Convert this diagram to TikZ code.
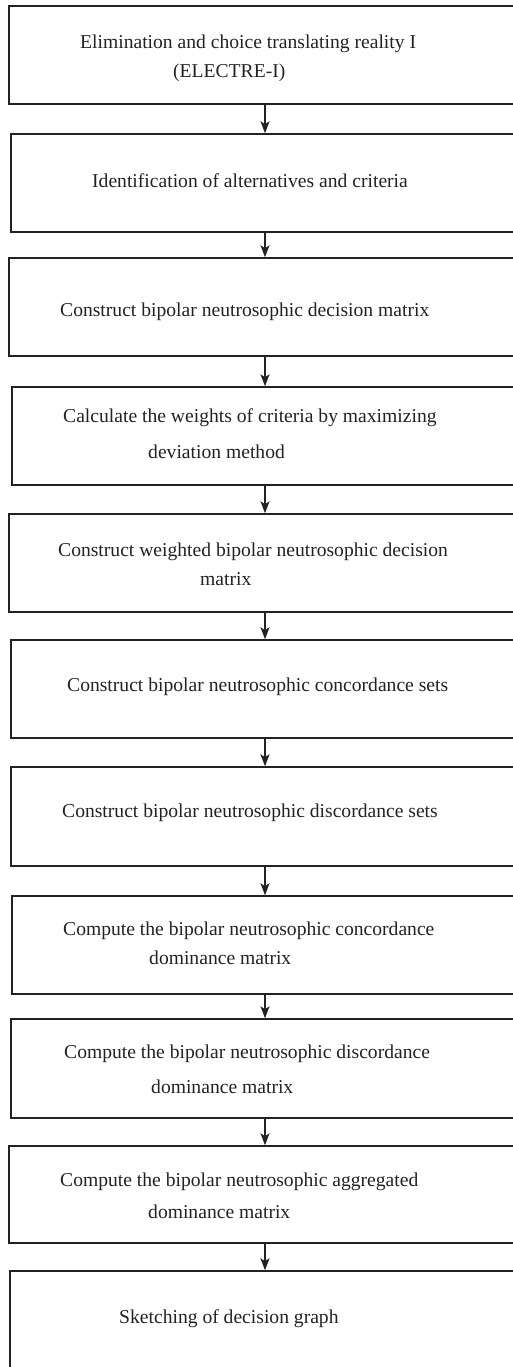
\documentclass[tikz,border=0pt]{standalone}
\usepackage{fontspec}
\setmainfont{Liberation Serif}
\usetikzlibrary{arrows.meta}
\definecolor{ink}{HTML}{222222}
\tikzset{
  box/.style={draw=ink, line width=1.5pt, rectangle, inner sep=0pt},
  lbl/.style={anchor=base west, inner sep=0pt, text=ink, font=\fontsize{19.6}{23}\selectfont},
  arr/.style={draw=ink, line width=1.5pt, -{Stealth[length=12pt,width=9pt,inset=3pt]}}
}
\newcommand{\mkbox}[4]{% name, left, top, bottom
  \node[box, minimum width={530-#2}, minimum height={#4-#3}] (#1) at ({(530+#2)/2},{(#3+#4)/2}) {};}
\begin{document}
\begin{tikzpicture}[x=1pt,y=-1pt]
\useasboundingbox (0,0) rectangle (512,1367);
\mkbox{b1}{9}{6}{104}
\mkbox{b2}{11}{134}{232}
\mkbox{b3}{9}{258}{356}
\mkbox{b4}{12}{387}{485}
\mkbox{b5}{9}{514}{612}
\mkbox{b6}{11}{640}{738}
\mkbox{b7}{11}{767}{866}
\mkbox{b8}{12}{896}{994}
\mkbox{b9}{11}{1019}{1118}
\mkbox{b10}{9}{1146}{1243}
\mkbox{b11}{10}{1271}{1420}
\coordinate (ax) at (265,0);
\foreach \a/\b in {b1/b2,b2/b3,b3/b4,b4/b5,b5/b6,b6/b7,b7/b8,b8/b9,b9/b10,b10/b11}
  \draw[arr] (\a.south -| ax) -- (\b.north -| ax);
\node[lbl] (t1a) at (80,49) {Elimination and choice translating reality I};
\node[lbl] (t1b) at (173,78) {(ELECTRE-I)};
\node[lbl] (t2) at (92,188) {Identification of alternatives and criteria};
\node[lbl] (t3) at (60,316) {Construct bipolar neutrosophic decision matrix};
\node[lbl] (t4a) at (63,422) {Calculate the weights of criteria by maximizing};
\node[lbl] (t4b) at (148,458) {deviation method};
\node[lbl] (t5a) at (58,556) {Construct weighted bipolar neutrosophic decision};
\node[lbl] (t5b) at (200,585) {matrix};
\node[lbl] (t6) at (67,691) {Construct bipolar neutrosophic concordance sets};
\node[lbl] (t7) at (62,817) {Construct bipolar neutrosophic discordance sets};
\node[lbl] (t8a) at (63,935) {Compute the bipolar neutrosophic concordance};
\node[lbl] (t8b) at (149,964) {dominance matrix};
\node[lbl] (t9a) at (64,1058) {Compute the bipolar neutrosophic discordance};
\node[lbl] (t9b) at (151,1093) {dominance matrix};
\node[lbl] (t10a) at (60,1186) {Compute the bipolar neutrosophic aggregated};
\node[lbl] (t10b) at (148,1218) {dominance matrix};
\node[lbl] (t11) at (119,1323) {Sketching of decision graph};
\end{tikzpicture}
\end{document}
